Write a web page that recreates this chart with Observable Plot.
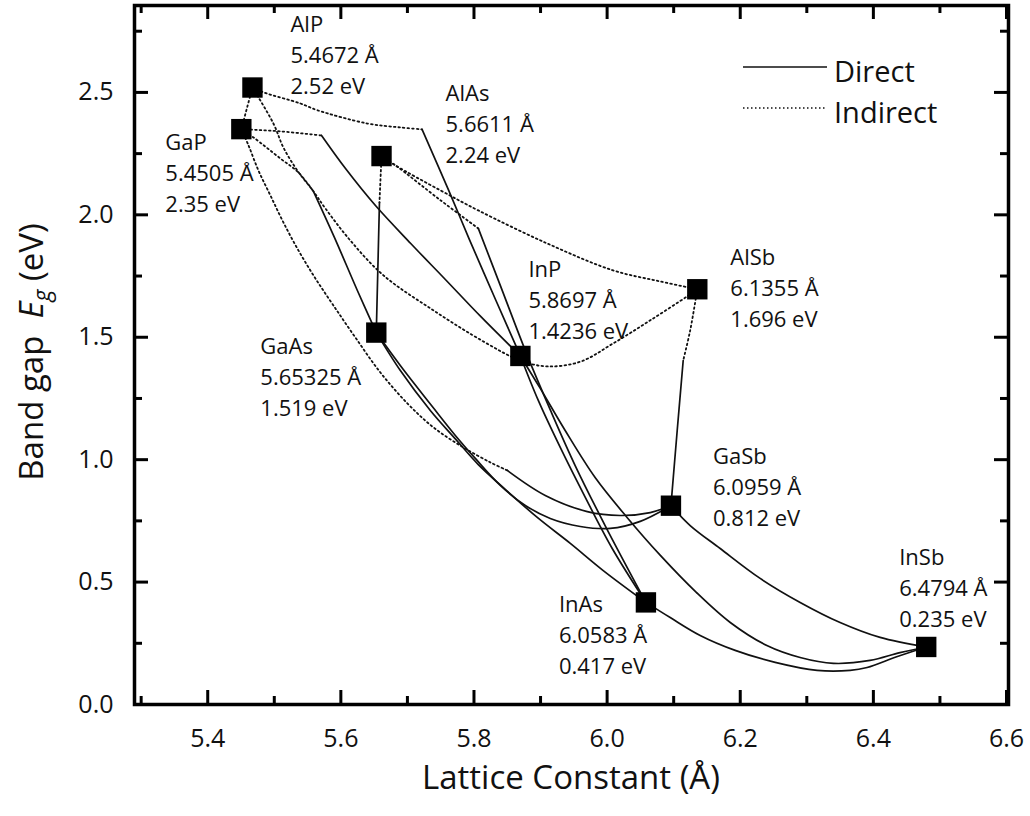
<!DOCTYPE html>
<html><head><meta charset="utf-8">
<script src="https://cdn.jsdelivr.net/npm/d3@7"></script>
<script src="https://cdn.jsdelivr.net/npm/@observablehq/plot@0.6"></script>
<style>html,body{margin:0;padding:0;background:#fff}#chart{width:1030px;height:816px}</style>
</head><body><div id="chart"></div><script>
// Binary compounds
const compounds = ["AlP","GaP","AlAs","GaAs","InP","AlSb","GaSb","InAs","InSb"];
const lattice   = [5.4672, 5.4505, 5.6611, 5.65325, 5.8697, 6.1355, 6.0959, 6.0583, 6.4794];
const bandGap   = [2.52, 2.35, 2.24, 1.519, 1.4236, 1.696, 0.812, 0.417, 0.235];
// label offsets (px) from each marker
const labelDx = [38, -76, 64, -116, 8, 33, 42, -87, -27];
const labelDy = [-63, 14, -62, 14, -86, -31, -49, 3, -89];

// Ternary alloy curves: [lattice constant (Å), Eg (eV)]
const AlP_GaP_ind = [[5.4672,2.52],[5.4505,2.35]];
const AlP_InP_ind = [[5.4672,2.52],[5.484,2.50],[5.539,2.455],[5.565,2.427],[5.640,2.373],[5.689,2.357],[5.722,2.349]];
const AlP_InP_dir = [[5.722,2.349],[5.762,2.10],[5.793,1.90],[5.833,1.65],[5.8697,1.4236]];
const GaP_InP_ind = [[5.4505,2.35],[5.509,2.341],[5.571,2.324]];
const GaP_InP_dir = [[5.571,2.324],[5.607,2.189],[5.652,2.038],[5.705,1.883],[5.757,1.736],[5.810,1.585],[5.8697,1.4236]];
const AlAs_GaAs_ind = [[5.6611,2.24],[5.658,2.051]];
const AlAs_GaAs_dir = [[5.658,2.051],[5.65325,1.519]];
const AlAs_InAs_ind = [[5.6611,2.24],[5.682,2.202],[5.7495,2.06],[5.8065,1.9445]];
const AlAs_InAs_dir = [[5.8065,1.9445],[5.8395,1.712],[5.880,1.426],[5.915,1.201],[5.952,0.976],[5.997,0.731],[6.0583,0.417]];
const InP_InAs_dir = [[5.8697,1.4236],[5.8966,1.242],[5.9296,1.050],[5.9672,0.846],[6.0077,0.637],[6.0583,0.417]];
const InP_InSb_dir = [[5.8697,1.4236],[5.8996,1.291],[5.937,1.119],[5.982,0.927],[6.030,0.764],[6.080,0.609],[6.134,0.458],[6.185,0.335],[6.240,0.241],[6.290,0.192],[6.340,0.168],[6.395,0.180],[6.440,0.212],[6.4794,0.235]];
const InAs_InSb_dir = [[6.0583,0.417],[6.0948,0.355],[6.1398,0.282],[6.1924,0.221],[6.2525,0.172],[6.3155,0.139],[6.3651,0.139],[6.3906,0.151],[6.435,0.195],[6.4794,0.235]];
const GaSb_InSb_dir = [[6.0959,0.812],[6.1248,0.731],[6.1699,0.637],[6.2299,0.515],[6.29,0.417],[6.35,0.335],[6.4101,0.274],[6.4794,0.235]];
const GaAs_InAs_dir = [[5.65325,1.519],[5.6894,1.364],[5.7344,1.201],[5.772,1.085],[5.8065,0.980],[5.8441,0.886],[5.8951,0.764],[5.9447,0.658],[5.9942,0.547],[6.0583,0.417]];
const GaAs_GaSb_dir = [[5.65325,1.519],[5.6924,1.373],[5.7374,1.217],[5.772,1.099],[5.802,1.005],[5.8395,0.895],[5.8771,0.813],[5.9146,0.760],[5.9597,0.727],[6.0047,0.719],[6.0498,0.748],[6.0959,0.812]];
const GaP_GaSb_ind = [[5.4505,2.35],[5.4612,2.284],[5.4762,2.181],[5.4942,2.079],[5.5137,1.969],[5.5362,1.855],[5.5618,1.740],[5.5888,1.630],[5.6218,1.499],[5.6594,1.356],[5.6999,1.230],[5.739,1.132],[5.784,1.050],[5.8245,0.989],[5.8501,0.956]];
const GaP_GaSb_dir = [[5.8501,0.956],[5.9071,0.854],[5.9702,0.788],[6.0197,0.772],[6.0648,0.784],[6.0959,0.812]];
const GaP_GaAs_ind = [[5.4505,2.35],[5.4687,2.316],[5.5092,2.230],[5.5362,2.173],[5.5588,2.096]];
const GaP_GaAs_dir = [[5.5588,2.096],[5.5903,1.908],[5.6248,1.691],[5.65325,1.519]];
const AlP_AlSb_ind = [[5.4672,2.52],[5.4987,2.373],[5.5137,2.275],[5.5347,2.181],[5.5588,2.096],[5.5768,2.026],[5.6143,1.895],[5.6639,1.753],[5.739,1.610],[5.814,1.483],[5.8696,1.405],[5.9101,1.381],[5.9597,1.400],[6.0092,1.475],[6.0648,1.569],[6.1203,1.667],[6.1355,1.696]];
const AlAs_AlSb_ind = [[5.6611,2.24],[5.6819,2.202],[5.7495,2.100],[5.8065,2.018],[5.9101,1.883],[6.0092,1.773],[6.0798,1.728],[6.1355,1.696]];
const AlSb_GaSb_ind = [[6.1355,1.696],[6.1248,1.528],[6.1143,1.405]];
const AlSb_GaSb_dir = [[6.1143,1.405],[6.1053,1.119],[6.0959,0.812]];

// axis ticks
const xMajor = [5.4, 5.6, 5.8, 6.0, 6.2, 6.4, 6.6];
const xMinor = [5.3, 5.5, 5.7, 5.9, 6.1, 6.3, 6.5];
const yMajor = [0, 0.5, 1.0, 1.5, 2.0, 2.5];
const yMinor = [0.25, 0.75, 1.25, 1.75, 2.25, 2.75];

const curves = [
  ["AlP-GaP","indirect",AlP_GaP_ind],
  ["AlP-InP","indirect",AlP_InP_ind],["AlP-InP","direct",AlP_InP_dir],
  ["GaP-InP","indirect",GaP_InP_ind],["GaP-InP","direct",GaP_InP_dir],
  ["AlAs-GaAs","indirect",AlAs_GaAs_ind],["AlAs-GaAs","direct",AlAs_GaAs_dir],
  ["AlAs-InAs","indirect",AlAs_InAs_ind],["AlAs-InAs","direct",AlAs_InAs_dir],
  ["InP-InAs","direct",InP_InAs_dir],
  ["InP-InSb","direct",InP_InSb_dir],
  ["InAs-InSb","direct",InAs_InSb_dir],
  ["GaSb-InSb","direct",GaSb_InSb_dir],
  ["GaAs-InAs","direct",GaAs_InAs_dir],
  ["GaAs-GaSb","direct",GaAs_GaSb_dir],
  ["GaP-GaSb","indirect",GaP_GaSb_ind],["GaP-GaSb","direct",GaP_GaSb_dir],
  ["GaP-GaAs","indirect",GaP_GaAs_ind],["GaP-GaAs","direct",GaP_GaAs_dir],
  ["AlP-AlSb","indirect",AlP_AlSb_ind],
  ["AlAs-AlSb","indirect",AlAs_AlSb_ind],
  ["AlSb-GaSb","indirect",AlSb_GaSb_ind],["AlSb-GaSb","direct",AlSb_GaSb_dir]
];
const rows = curves.flatMap(([id, type, pts]) => pts.map(([a, eg]) => ({id: id + "-" + type, type, a, eg})));
const points = compounds.map((name, i) => ({name, a: lattice[i], eg: bandGap[i], i}));

const W = 1030, H = 816, mL = 134, mR = 22, mT = 5, mB = 112;
const pW = W - mL - mR, pH = H - mT - mB;
const font = "Open Sans";

const labelMarks = points.flatMap(p => [
  d => d.name, d => `${d.a} Å`, d => `${d.eg} eV`
].map((fn, j) => Plot.text([p], {
  x: "a", y: "eg", text: fn, dx: labelDx[p.i], dy: labelDy[p.i] + j * 31,
  textAnchor: "start", lineAnchor: "middle", fontSize: 22, fill: "#111"
})));

const chart = Plot.plot({
  width: W, height: H,
  marginLeft: mL, marginRight: mR, marginTop: mT, marginBottom: mB,
  x: {domain: [5.29, 6.603]},
  y: {domain: [0, 2.855]},
  style: {fontFamily: font, background: "#fff", color: "#111"},
  marks: [
    Plot.line(rows.filter(d => d.type === "indirect"), {x: "a", y: "eg", z: "id", curve: "catmull-rom", stroke: "#111", strokeWidth: 1.8, strokeDasharray: "1.6,3"}),
    Plot.line(rows.filter(d => d.type === "direct"), {x: "a", y: "eg", z: "id", curve: "catmull-rom", stroke: "#111", strokeWidth: 1.7}),
    Plot.dot(points, {x: "a", y: "eg", symbol: "square", r: 11.5, fill: "#000", stroke: null}),
    ...labelMarks,
    // inward ticks on all four sides
    Plot.tickX(xMajor, {x: d => d, insetTop: pH - 14, stroke: "#000", strokeWidth: 3}),
    Plot.tickX(xMinor, {x: d => d, insetTop: pH - 8, stroke: "#000", strokeWidth: 3}),
    Plot.tickX(xMajor, {x: d => d, insetBottom: pH - 14, stroke: "#000", strokeWidth: 3}),
    Plot.tickX(xMinor, {x: d => d, insetBottom: pH - 8, stroke: "#000", strokeWidth: 3}),
    Plot.tickY(yMajor, {y: d => d, insetRight: pW - 14, stroke: "#000", strokeWidth: 3}),
    Plot.tickY(yMinor, {y: d => d, insetRight: pW - 8, stroke: "#000", strokeWidth: 3}),
    Plot.tickY(yMajor, {y: d => d, insetLeft: pW - 14, stroke: "#000", strokeWidth: 3}),
    Plot.tickY(yMinor, {y: d => d, insetLeft: pW - 8, stroke: "#000", strokeWidth: 3}),
    Plot.axisX({ticks: xMajor, tickSize: 0, tickPadding: 25, fontSize: 25, tickFormat: d3.format(".1f"), label: null}),
    Plot.axisY({ticks: yMajor, tickSize: 0, tickPadding: 21, fontSize: 25, tickFormat: d3.format(".1f"), label: null}),
    Plot.frame({stroke: "#000", strokeWidth: 3.5})
  ]
});
document.getElementById("chart").appendChild(chart);

// axis titles and legend
const svg = d3.select(chart);
const yl = svg.append("text")
  .attr("transform", "translate(43,352) rotate(-90)")
  .attr("text-anchor", "middle").attr("font-size", 33).attr("font-family", font)
  .attr("fill", "#111").style("white-space", "pre");
yl.append("tspan").text("Band gap  ");
yl.append("tspan").attr("font-style", "italic").text("E");
yl.append("tspan").attr("font-style", "italic").attr("font-size", 23).attr("dy", 7).text("g");
yl.append("tspan").attr("dy", -7).text(" (eV)");

svg.append("text").attr("x", 571).attr("y", 789).attr("text-anchor", "middle")
  .attr("font-size", 33).attr("font-family", font).attr("fill", "#111")
  .text("Lattice Constant (Å)");

const leg = svg.append("g");
leg.append("line").attr("x1", 743).attr("x2", 827).attr("y1", 67).attr("y2", 67)
  .attr("stroke", "#111").attr("stroke-width", 1.6);
leg.append("line").attr("x1", 743).attr("x2", 827).attr("y1", 108).attr("y2", 108)
  .attr("stroke", "#111").attr("stroke-width", 1.6).attr("stroke-dasharray", "1.5,2.5");
leg.append("text").attr("x", 834).attr("y", 82).attr("text-anchor", "start").attr("font-size", 29).attr("font-family", font).attr("fill", "#111").text("Direct");
leg.append("text").attr("x", 834).attr("y", 123).attr("text-anchor", "start").attr("font-size", 29).attr("font-family", font).attr("fill", "#111").text("Indirect");
</script></body></html>
